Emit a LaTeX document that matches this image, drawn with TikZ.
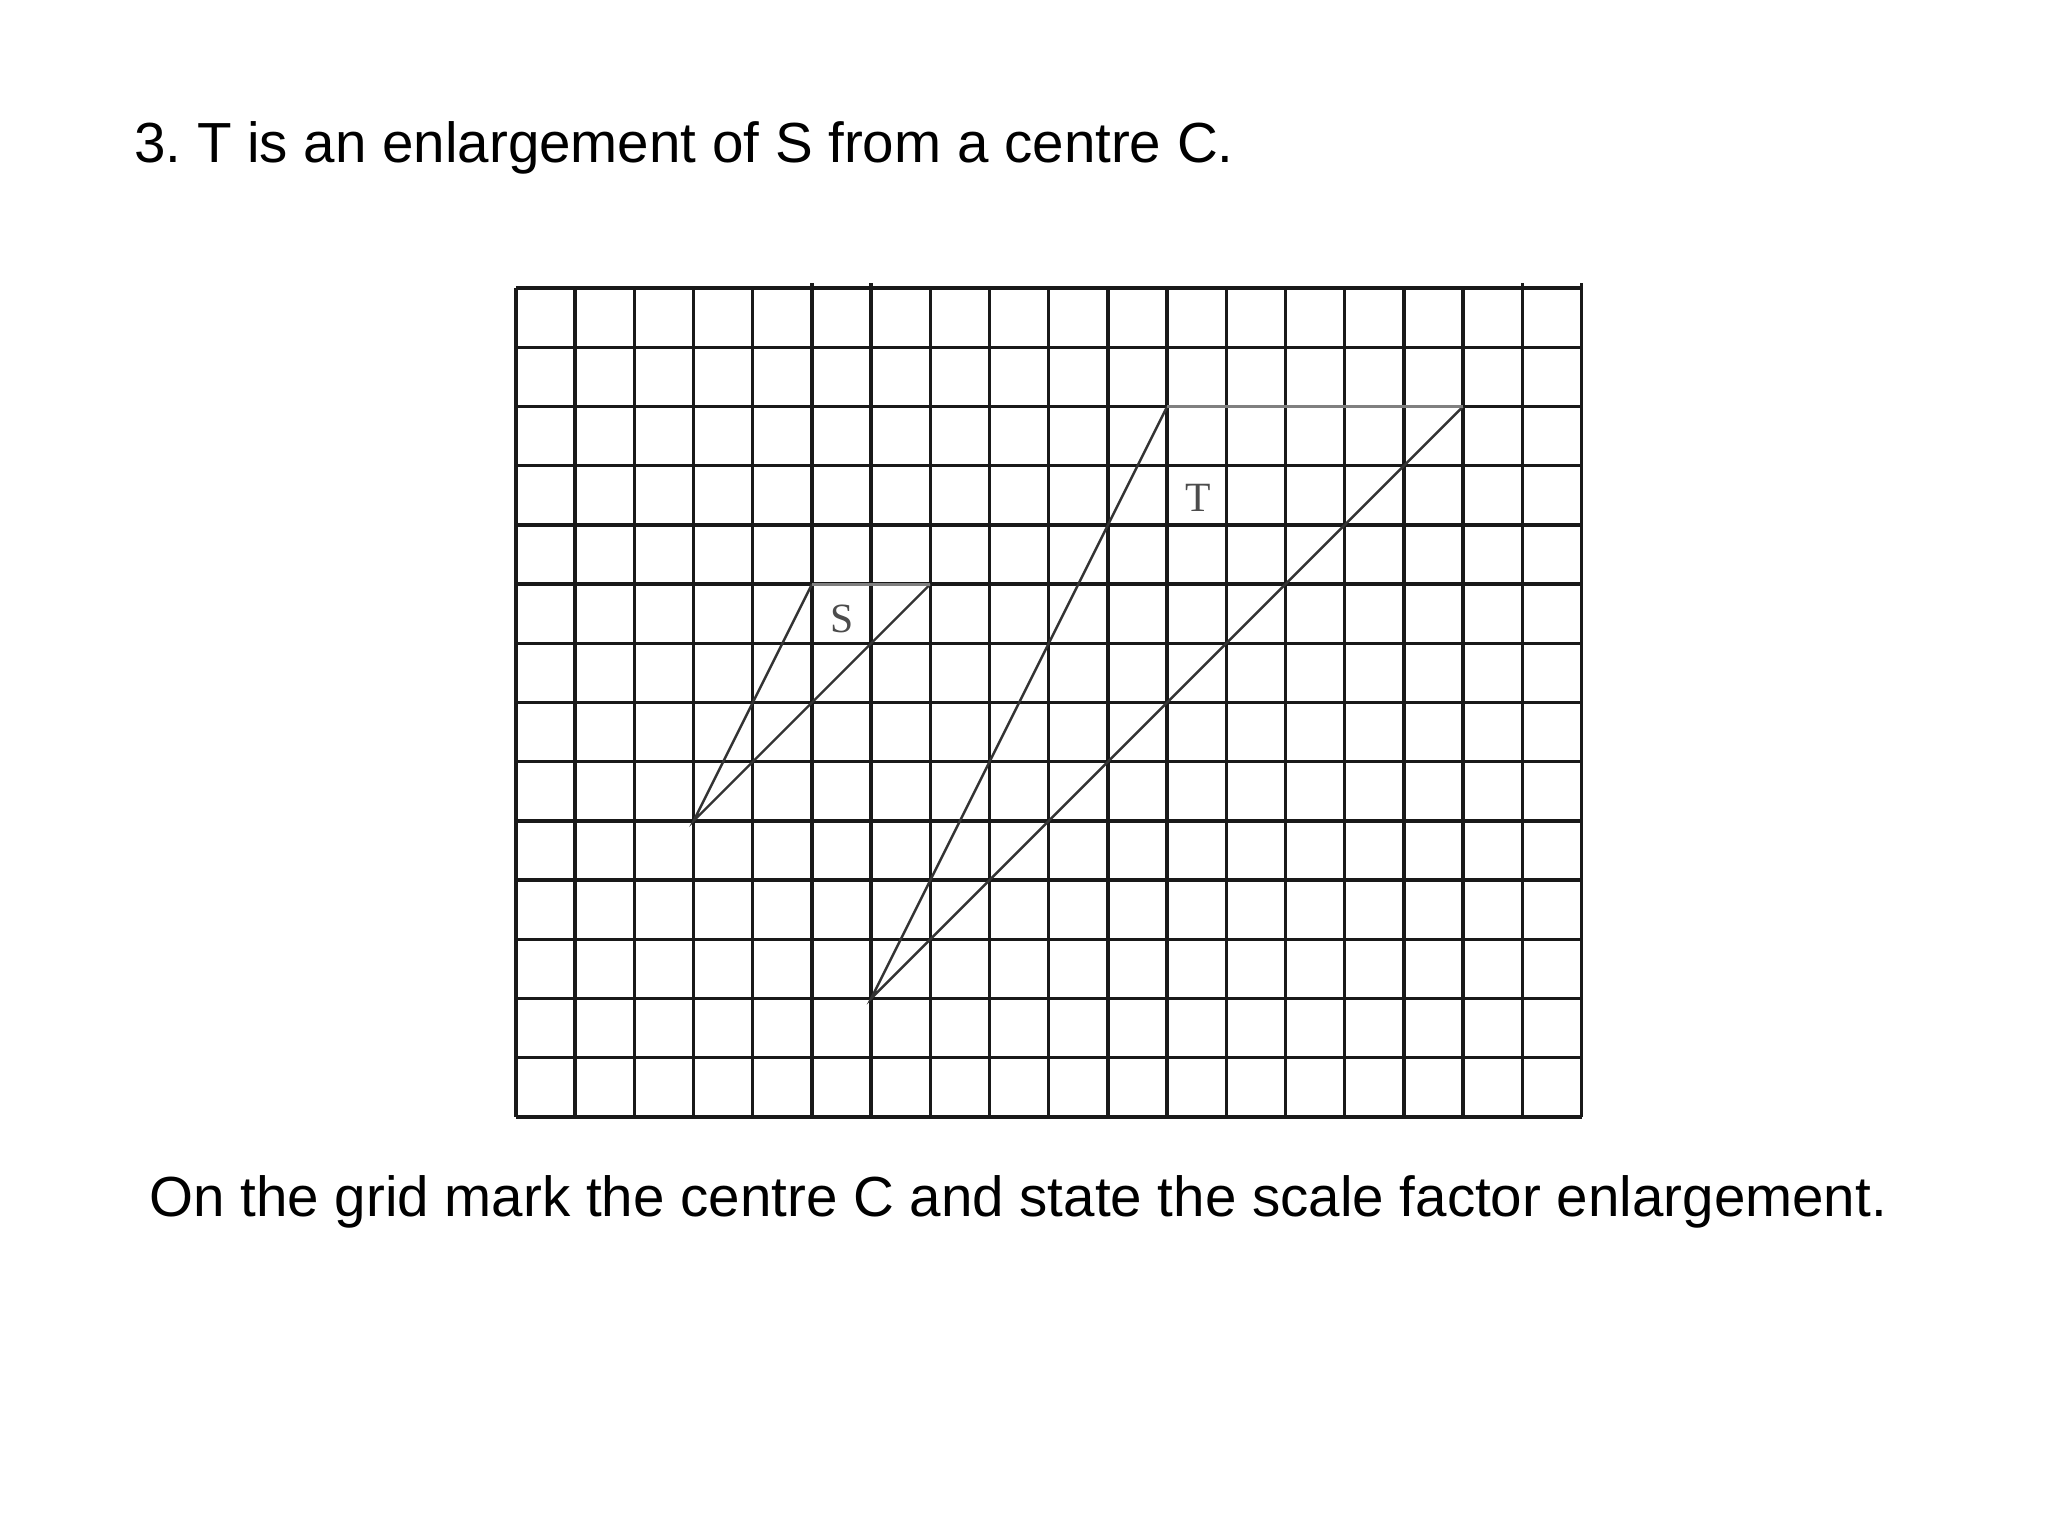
\documentclass[tikz,border=0pt]{standalone}
\usepackage{fontspec}
\setmainfont{Liberation Sans}
\newfontfamily\labelfont{Liberation Serif}
\usepackage{xcolor}
\frenchspacing

\begin{document}
\begin{tikzpicture}[scale=0.6,
    gridline/.style={line width=1pt, black!90},
    shapeline/.style={line width=0.7pt, black!80},
    topline/.style={line width=0.8pt, black!50},
    shapelabel/.style={font=\labelfont\fontsize{12}{14}\selectfont, text=black!70},
    question/.style={font=\fontsize{16.3}{20}\selectfont, anchor=base west, inner sep=0pt}]
  \useasboundingbox (-8.716,-7.078) rectangle (25.88,18.868);

  % Draw the grid
  \draw[gridline] (0,0) grid (18,14);
  \foreach \gx in {5,6,17,18}
    \draw[gridline] (\gx,14) -- (\gx,14.08);

  % Corners of S and T
  \coordinate (s1) at (3,5);
  \coordinate (s2) at (5,9);
  \coordinate (s3) at (7,9);
  \coordinate (t1) at (6,2);
  \coordinate (t2) at (11,12);
  \coordinate (t3) at (16,12);

  % Shape S
  \draw[shapeline] (s2) -- (s1) -- (s3);
  \draw[topline] (s2) -- (s3);
  \node[shapelabel] (labelS) at (5.51,8.41) {S};

  % Shape T
  \draw[shapeline] (t2) -- (t1) -- (t3);
  \draw[topline] (t2) -- (t3);
  \node[shapelabel] (labelT) at (11.52,10.46) {T};

  % Question text
  \node[question] (title) at (-6.46,16.115) {3. T is an enlargement of S from a centre C.};
  \node[question] (task) at (-6.2,-1.689) {On the grid mark the centre C and state the scale factor enlargement.};
\end{tikzpicture}
\end{document}
